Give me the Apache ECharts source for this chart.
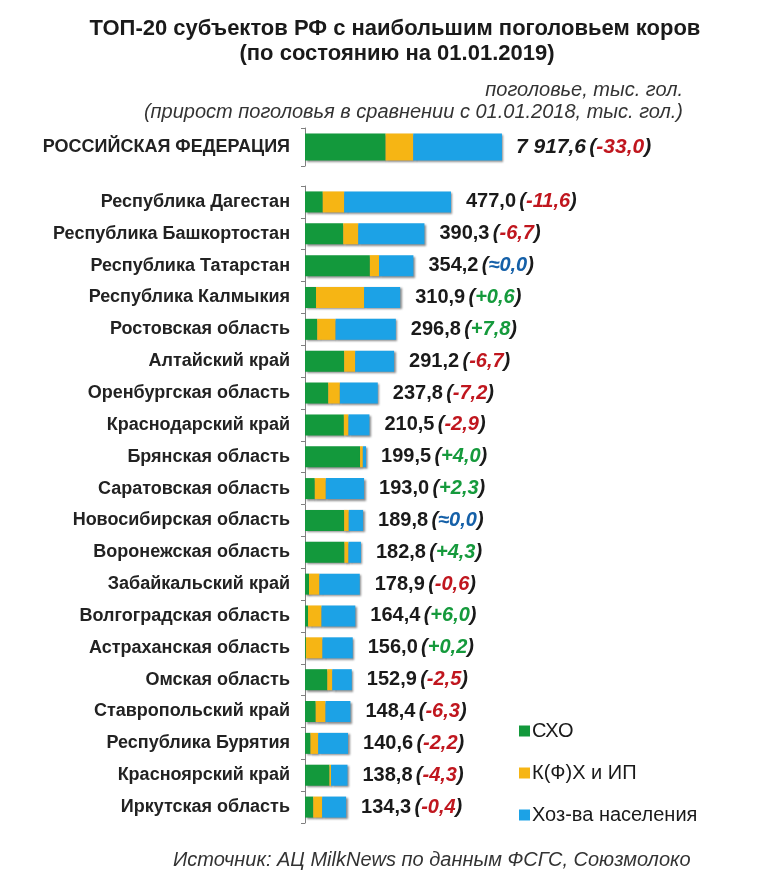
<!DOCTYPE html>
<html><head><meta charset="utf-8">
<script src="https://cdn.jsdelivr.net/npm/echarts@6/dist/echarts.min.js"></script>
<style>html,body{margin:0;padding:0;background:#fff}#c{width:768px;height:884px}</style>
</head><body><div id="c"></div>
<script>
const rfName = ['РОССИЙСКАЯ ФЕДЕРАЦИЯ'];
const rfSxo = [3240];
const rfKfh = [1110];
const rfHh = [3567.6];
const rfTotal = ['7 917,6'];
const rfDelta = ['-33,0'];

const regions = ['Республика Дагестан','Республика Башкортостан','Республика Татарстан','Республика Калмыкия','Ростовская область','Алтайский край','Оренбургская область','Краснодарский край','Брянская область','Саратовская область','Новосибирская область','Воронежская область','Забайкальский край','Волгоградская область','Астраханская область','Омская область','Ставропольский край','Республика Бурятия','Красноярский край','Иркутская область'];
const sxo = [58,125,212,36,40,128,76,127,180,32,128,129,13,10,3,73,35,18,80,27];
const kfh = [70,49,30,157,60,36,38,15,9,36,15,13,34,44,54,16,32,25,5,29];
const hh = [349,216.3,112.2,117.9,196.8,127.2,123.8,68.5,10.5,125,46.8,40.8,131.9,110.4,99,63.9,81.4,97.6,53.8,78.3];
const totals = ['477,0','390,3','354,2','310,9','296,8','291,2','237,8','210,5','199,5','193,0','189,8','182,8','178,9','164,4','156,0','152,9','148,4','140,6','138,8','134,3'];
const deltas = ['-11,6','-6,7','≈0,0','+0,6','+7,8','-6,7','-7,2','-2,9','+4,0','+2,3','≈0,0','+4,3','-0,6','+6,0','+0,2','-2,5','-6,3','-2,2','-4,3','-0,4'];
const seriesNames = ['СХО','К(Ф)Х и ИП','Хоз-ва населения'];
const colors = ['#13993c','#f6b514','#1ca2e6'];

function dKey(d){ return d[0]==='-' ? 'neg' : (d[0]==='+' ? 'pos' : 'zer'); }
const baseFont = 'Liberation Sans, Arial, sans-serif';
function rich(sz, vStyle){
  const it = {fontFamily: baseFont, fontWeight:'bold', fontStyle:'italic', fontSize:sz};
  return {
    v: Object.assign({fontFamily: baseFont, fontWeight:'bold', fontSize:sz, color:'#1a1a1a'}, vStyle||{}),
    p: Object.assign({color:'#1a1a1a'}, it),
    neg: Object.assign({color:'#c0161e'}, it),
    pos: Object.assign({color:'#159a3c'}, it),
    zer: Object.assign({color:'#1560a8'}, it)
  };
}
const shadow = {shadowBlur:2, shadowColor:'rgba(0,0,0,0.45)', shadowOffsetX:1.5, shadowOffsetY:1.5};

const series = [];
const rfData = [rfSxo, rfKfh, rfHh];
const regData = [sxo, kfh, hh];
for (let i=0;i<3;i++){
  const s1 = {name: seriesNames[i], type:'bar', stack:'rf', xAxisIndex:0, yAxisIndex:0, barWidth:27,
    itemStyle: Object.assign({color: colors[i]}, shadow), data: rfData[i], animation:false};
  if (i===2) s1.label = {show:true, position:'right', distance:14,
    formatter: p => `{v|${rfTotal[p.dataIndex]}} {p|(}{${dKey(rfDelta[p.dataIndex])}|${rfDelta[p.dataIndex]}}{p|)}`,
    rich: rich(21, {fontStyle:'italic'})};
  series.push(s1);
  const s2 = {name: seriesNames[i], type:'bar', stack:'reg', xAxisIndex:1, yAxisIndex:1, barWidth:21,
    itemStyle: Object.assign({color: colors[i]}, shadow), data: regData[i], animation:false};
  if (i===2) s2.label = {show:true, position:'right', distance:15,
    formatter: p => `{v|${totals[p.dataIndex]}} {p|(}{${dKey(deltas[p.dataIndex])}|${deltas[p.dataIndex]}}{p|)}`,
    rich: rich(20)};
  series.push(s2);
}

const yAxisBase = {
  type:'category', inverse:true,
  axisLine:{show:true, lineStyle:{color:'#808080', width:1}},
  axisTick:{show:true, length:4, lineStyle:{color:'#808080'}},
  axisLabel:{margin:15, fontFamily: baseFont, fontWeight:'bold', fontSize:18, color:'#222'}
};
const narrow = 'Liberation Sans Narrow, Arial Narrow, Liberation Sans, sans-serif';
const option = {
  backgroundColor:'#fff',
  animation:false,
  title:[
    {text:'ТОП-20 субъектов РФ с наибольшим поголовьем коров', left:390, top:13, textAlign:'center',
     textStyle:{fontFamily:narrow, fontWeight:'bold', fontSize:22, color:'#1a1a1a'}},
    {text:'(по состоянию на 01.01.2019)', left:392, top:38, textAlign:'center',
     textStyle:{fontFamily:narrow, fontWeight:'bold', fontSize:22, color:'#1a1a1a'}},
    {text:'поголовье, тыс. гол.', right:80, top:75,
     textStyle:{fontFamily:narrow, fontStyle:'italic', fontWeight:'normal', fontSize:20, color:'#333'}},
    {text:'(прирост поголовья в сравнении с 01.01.2018, тыс. гол.)', right:80, top:97,
     textStyle:{fontFamily:narrow, fontStyle:'italic', fontWeight:'normal', fontSize:20, color:'#333'}},
    {text:'Источник: АЦ MilkNews по данным ФСГС, Союзмолоко', left:168, top:845,
     textStyle:{fontFamily: baseFont, fontStyle:'italic', fontWeight:'normal', fontSize:20, color:'#333'}}
  ],
  legend:{
    orient:'vertical', left:514, top:716, itemWidth:11, itemHeight:11, itemGap:22, icon:'rect',
    data: seriesNames,
    textStyle:{fontFamily: baseFont, fontSize:20, color:'#1a1a1a', lineHeight:20, padding:[0,0,0,-3]}
  },
  grid:[
    {left:305, top:128, width:199, height:38},
    {left:305, top:186, width:306, height:637}
  ],
  xAxis:[
    {gridIndex:0, type:'value', min:0, max:8000, show:false},
    {gridIndex:1, type:'value', min:0, max:1000, show:false}
  ],
  yAxis:[
    Object.assign({}, yAxisBase, {gridIndex:0, data: rfName}),
    Object.assign({}, yAxisBase, {gridIndex:1, data: regions})
  ],
  series: series
};
const chart = echarts.init(document.getElementById('c'), null, {renderer:'canvas'});
chart.setOption(option);
</script></body></html>
